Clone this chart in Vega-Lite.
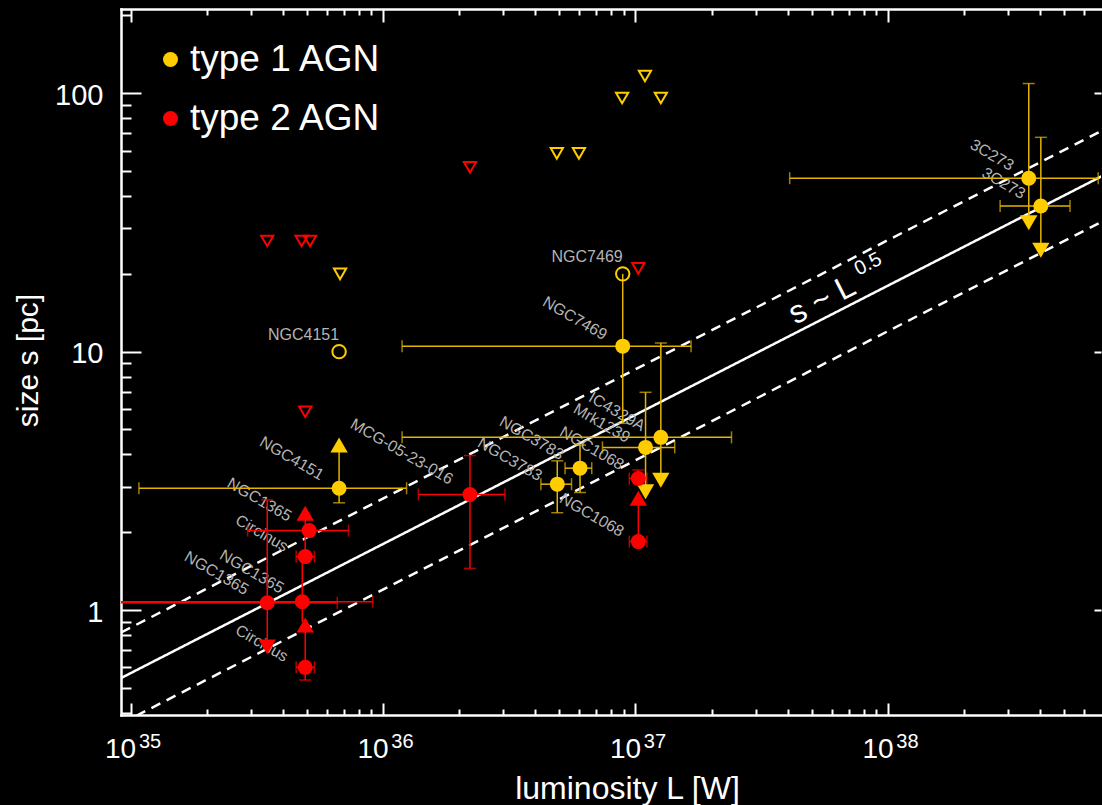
{
"$schema": "https://vega.github.io/schema/vega-lite/v6.json",
"width": 980,
"height": 706,
"autosize": {"type": "none"},
"padding": {"left": 121, "top": 9, "right": 1, "bottom": 90},
"background": "#000000",
"config": {
  "view": {"stroke": null},
  "axis": {"grid": false, "domainColor": "#FFFFFF", "domainWidth": 2.5, "domainCap": "square", "tickColor": "#FFFFFF", "tickWidth": 2, "labelColor": "#FFFFFF", "titleColor": "#FFFFFF", "labelFont": "Liberation Sans", "titleFont": "Liberation Sans", "titleFontWeight": "normal", "labelFlush": false, "labelOverlap": false, "labelBound": false},
  "text": {"font": "Liberation Sans"},
  "legend": {"labelFont": "Liberation Sans"}
},
"resolve": {"axis": {"x": "independent", "y": "independent"}, "scale": {"color": "independent", "shape": "independent", "strokeDash": "independent"}},
"datasets": {
  "fit": [
    {"line": "fit", "L": 8e34, "s": 0.5094}, {"line": "fit", "L": 8e38, "s": 50.94},
    {"line": "upper", "L": 8e34, "s": 0.7641}, {"line": "upper", "L": 8e38, "s": 76.41},
    {"line": "lower", "L": 8e34, "s": 0.3396}, {"line": "lower", "L": 8e38, "s": 33.96}
  ],
  "lblh": [
    {"name": "NGC4151", "L": 6.7e35, "s": 11.1},
    {"name": "NGC7469", "L": 8.9e36, "s": 22.2}
  ],
  "lblr": [
    {"name": "NGC4151", "L": 4.35e35, "s": 3.86},
    {"name": "MCG-05-23-016", "L": 1.186e36, "s": 4.10},
    {"name": "NGC1365", "L": 3.24e35, "s": 2.67},
    {"name": "Circinus", "L": 3.31e35, "s": 1.98},
    {"name": "NGC1365", "L": 3.02e35, "s": 1.406},
    {"name": "NGC1365", "L": 2.19e35, "s": 1.387},
    {"name": "Circinus", "L": 3.31e35, "s": 0.743},
    {"name": "NGC7469", "L": 5.75e36, "s": 13.45},
    {"name": "IC4329A", "L": 8.44e36, "s": 5.85},
    {"name": "Mrk1239", "L": 7.35e36, "s": 5.28},
    {"name": "NGC3783", "L": 3.88e36, "s": 4.62},
    {"name": "NGC3783", "L": 3.18e36, "s": 3.83},
    {"name": "NGC1068", "L": 6.71e36, "s": 4.22},
    {"name": "NGC1068", "L": 6.71e36, "s": 2.33},
    {"name": "3C273", "L": 2.58e38, "s": 57.6},
    {"name": "3C273", "L": 2.87e38, "s": 44.8}
  ],
  "slopemain": [{"txt": "s ~ L", "L": 5.48e37, "s": 15.84}],
  "slopeexp": [{"txt": "0.5", "L": 8.34e37, "s": 21.8}],
  "herr": [
    {"type": "type 1 AGN", "Llo": 1.08e35, "Lhi": 1.24e36, "s": 2.96},
    {"type": "type 1 AGN", "Llo": 1.19e36, "Lhi": 1.66e37, "s": 10.5},
    {"type": "type 1 AGN", "Llo": 1.19e36, "Lhi": 2.4e37, "s": 4.66},
    {"type": "type 1 AGN", "Llo": 7.4e36, "Lhi": 1.43e37, "s": 4.26},
    {"type": "type 1 AGN", "Llo": 5.26e36, "Lhi": 6.71e36, "s": 3.54},
    {"type": "type 1 AGN", "Llo": 4.22e36, "Lhi": 5.58e36, "s": 3.07},
    {"type": "type 1 AGN", "Llo": 4.08e37, "Lhi": 6.8e38, "s": 46.9},
    {"type": "type 1 AGN", "Llo": 2.78e38, "Lhi": 5.26e38, "s": 36.6},
    {"type": "type 2 AGN", "Llo": 1.38e36, "Lhi": 3.04e36, "s": 2.8},
    {"type": "type 2 AGN", "Llo": 9.45e36, "Lhi": 1.11e37, "s": 3.23},
    {"type": "type 2 AGN", "Llo": 9.45e36, "Lhi": 1.11e37, "s": 1.84},
    {"type": "type 2 AGN", "Llo": 5e34, "Lhi": 6.59e35, "s": 1.067},
    {"type": "type 2 AGN", "Llo": 5e34, "Lhi": 9.1e35, "s": 1.077},
    {"type": "type 2 AGN", "Llo": 2.91e35, "Lhi": 7.3e35, "s": 2.03},
    {"type": "type 2 AGN", "Llo": 4.53e35, "Lhi": 5.35e35, "s": 1.61},
    {"type": "type 2 AGN", "Llo": 4.53e35, "Lhi": 5.35e35, "s": 0.6}
  ],
  "verr": [
    {"type": "type 1 AGN", "L": 6.7e35, "slo": 2.6, "shi": 4.35},
    {"type": "type 1 AGN", "L": 8.9e36, "slo": 5.28, "shi": 20},
    {"type": "type 1 AGN", "L": 1.26e37, "slo": 3.18, "shi": 10.8},
    {"type": "type 1 AGN", "L": 1.096e37, "slo": 2.87, "shi": 6.96},
    {"type": "type 1 AGN", "L": 6.03e36, "slo": 2.85, "shi": 4.35},
    {"type": "type 1 AGN", "L": 4.9e36, "slo": 2.38, "shi": 3.78},
    {"type": "type 1 AGN", "L": 3.61e38, "slo": 31.5, "shi": 109},
    {"type": "type 1 AGN", "L": 4.03e38, "slo": 24.7, "shi": 67.5},
    {"type": "type 2 AGN", "L": 2.21e36, "slo": 1.45, "shi": 3.96},
    {"type": "type 2 AGN", "L": 1.026e37, "slo": 3.0, "shi": 3.48},
    {"type": "type 2 AGN", "L": 1.026e37, "slo": 1.84, "shi": 2.71},
    {"type": "type 2 AGN", "L": 3.48e35, "slo": 0.72, "shi": 2.67},
    {"type": "type 2 AGN", "L": 4.79e35, "slo": 0.9, "shi": 1.61},
    {"type": "type 2 AGN", "L": 4.92e35, "slo": 1.61, "shi": 2.37},
    {"type": "type 2 AGN", "L": 4.92e35, "slo": 0.536, "shi": 0.875}
  ],
  "vcap": [
    {"type": "type 1 AGN", "L": 6.7e35, "s": 2.6},
    {"type": "type 1 AGN", "L": 8.9e36, "s": 5.28},
    {"type": "type 1 AGN", "L": 1.26e37, "s": 10.8},
    {"type": "type 1 AGN", "L": 1.096e37, "s": 6.96},
    {"type": "type 1 AGN", "L": 6.03e36, "s": 2.85},
    {"type": "type 1 AGN", "L": 6.03e36, "s": 4.35},
    {"type": "type 1 AGN", "L": 4.9e36, "s": 2.38},
    {"type": "type 1 AGN", "L": 4.9e36, "s": 3.78},
    {"type": "type 1 AGN", "L": 3.61e38, "s": 109},
    {"type": "type 1 AGN", "L": 4.03e38, "s": 67.5},
    {"type": "type 2 AGN", "L": 2.21e36, "s": 1.45},
    {"type": "type 2 AGN", "L": 2.21e36, "s": 3.96},
    {"type": "type 2 AGN", "L": 1.026e37, "s": 3.48},
    {"type": "type 2 AGN", "L": 3.48e35, "s": 2.67},
    {"type": "type 2 AGN", "L": 4.92e35, "s": 0.536}
  ],
  "arrows": [
    {"type": "type 1 AGN", "L": 6.7e35, "s": 4.35, "dir": "up"},
    {"type": "type 1 AGN", "L": 1.26e37, "s": 3.18, "dir": "down"},
    {"type": "type 1 AGN", "L": 1.096e37, "s": 2.87, "dir": "down"},
    {"type": "type 1 AGN", "L": 3.61e38, "s": 31.5, "dir": "down"},
    {"type": "type 1 AGN", "L": 4.03e38, "s": 24.7, "dir": "down"},
    {"type": "type 2 AGN", "L": 1.026e37, "s": 2.71, "dir": "up"},
    {"type": "type 2 AGN", "L": 3.48e35, "s": 0.72, "dir": "down"},
    {"type": "type 2 AGN", "L": 4.92e35, "s": 2.37, "dir": "up"},
    {"type": "type 2 AGN", "L": 4.92e35, "s": 0.875, "dir": "up"}
  ],
  "ulim": [
    {"type": "type 1 AGN", "L": 6.76e35, "s": 20.0},
    {"type": "type 1 AGN", "L": 4.88e36, "s": 58.5},
    {"type": "type 1 AGN", "L": 5.97e36, "s": 58.5},
    {"type": "type 1 AGN", "L": 8.85e36, "s": 95.8},
    {"type": "type 1 AGN", "L": 1.09e37, "s": 116.6},
    {"type": "type 1 AGN", "L": 1.26e37, "s": 95.8},
    {"type": "type 2 AGN", "L": 3.48e35, "s": 26.8},
    {"type": "type 2 AGN", "L": 4.76e35, "s": 26.8},
    {"type": "type 2 AGN", "L": 5.14e35, "s": 26.8},
    {"type": "type 2 AGN", "L": 2.21e36, "s": 51.7},
    {"type": "type 2 AGN", "L": 4.92e35, "s": 5.85},
    {"type": "type 2 AGN", "L": 1.026e37, "s": 21.0}
  ],
  "ocirc": [
    {"type": "type 1 AGN", "L": 6.7e35, "s": 10.0},
    {"type": "type 1 AGN", "L": 8.9e36, "s": 20.0}
  ],
  "pts": [
    {"type": "type 1 AGN", "L": 6.7e35, "s": 2.96},
    {"type": "type 1 AGN", "L": 8.9e36, "s": 10.5},
    {"type": "type 1 AGN", "L": 1.26e37, "s": 4.66},
    {"type": "type 1 AGN", "L": 1.096e37, "s": 4.26},
    {"type": "type 1 AGN", "L": 6.03e36, "s": 3.54},
    {"type": "type 1 AGN", "L": 4.9e36, "s": 3.07},
    {"type": "type 1 AGN", "L": 3.61e38, "s": 46.9},
    {"type": "type 1 AGN", "L": 4.03e38, "s": 36.6},
    {"type": "type 2 AGN", "L": 2.21e36, "s": 2.8},
    {"type": "type 2 AGN", "L": 1.026e37, "s": 3.23},
    {"type": "type 2 AGN", "L": 1.026e37, "s": 1.84},
    {"type": "type 2 AGN", "L": 3.48e35, "s": 1.067},
    {"type": "type 2 AGN", "L": 4.79e35, "s": 1.077},
    {"type": "type 2 AGN", "L": 5.1e35, "s": 2.03},
    {"type": "type 2 AGN", "L": 4.92e35, "s": 1.61},
    {"type": "type 2 AGN", "L": 4.92e35, "s": 0.6}
  ]
},
"layer": [
  {
    "data": {"name": "fit"},
    "mark": {"type": "line", "color": "#FFFFFF", "strokeWidth": 2.5, "clip": true},
    "encoding": {
      "x": {"field": "L", "type": "quantitative", "scale": {"type": "log", "domain": [9.17e34, 6.976e38], "nice": false},
        "axis": {"orient": "bottom", "values": [1e35, 1e36, 1e37, 1e38], "tickSize": -12, "labels": false, "domain": true, "title": null}},
      "y": {"field": "s", "type": "quantitative", "scale": {"type": "log", "domain": [0.3925, 211.8], "nice": false},
        "axis": {"orient": "left", "values": [1, 10, 100], "tickSize": -20, "labels": false, "domain": true, "title": null}},
      "detail": {"field": "line", "type": "nominal"},
      "strokeDash": {"field": "line", "type": "nominal", "scale": {"domain": ["fit", "upper", "lower"], "range": [[1, 0], [10, 7], [10, 7]]}, "legend": null}
    }
  },
  {
    "data": {"name": "lblh"},
    "mark": {"type": "text", "align": "right", "baseline": "alphabetic", "fontSize": 16, "color": "#B4B4B4"},
    "encoding": {
      "x": {"field": "L", "type": "quantitative", "scale": {"type": "log", "domain": [9.17e34, 6.976e38], "nice": false},
        "axis": {"orient": "bottom", "values": [2e35, 3e35, 4e35, 5e35, 6e35, 7e35, 8e35, 9e35, 2e36, 3e36, 4e36, 5e36, 6e36, 7e36, 8e36, 9e36, 2e37, 3e37, 4e37, 5e37, 6e37, 7e37, 8e37, 9e37, 2e38, 3e38, 4e38, 5e38, 6e38], "tickSize": -6, "labels": false, "domain": false, "title": null}},
      "y": {"field": "s", "type": "quantitative", "scale": {"type": "log", "domain": [0.3925, 211.8], "nice": false},
        "axis": {"orient": "left", "values": [0.4, 0.5, 0.6, 0.7, 0.8, 0.9, 2, 3, 4, 5, 6, 7, 8, 9, 20, 30, 40, 50, 60, 70, 80, 90, 200], "tickSize": -10, "labels": false, "domain": false, "title": null}},
      "text": {"field": "name", "type": "nominal"}
    }
  },
  {
    "data": {"name": "lblr"},
    "mark": {"type": "text", "align": "center", "baseline": "middle", "angle": 30, "fontSize": 16, "color": "#B4B4B4"},
    "encoding": {
      "x": {"field": "L", "type": "quantitative", "scale": {"type": "log", "domain": [9.17e34, 6.976e38], "nice": false},
        "axis": {"orient": "top", "values": [1e35, 1e36, 1e37, 1e38], "tickSize": -13, "labels": false, "domain": true, "title": null}},
      "y": {"field": "s", "type": "quantitative", "scale": {"type": "log", "domain": [0.3925, 211.8], "nice": false},
        "axis": {"orient": "right", "values": [1, 10, 100], "tickSize": -7, "labels": false, "domain": false, "title": null}},
      "text": {"field": "name", "type": "nominal"}
    }
  },
  {
    "data": {"name": "slopemain"},
    "mark": {"type": "text", "align": "center", "baseline": "middle", "angle": -27, "fontSize": 32, "color": "#FFFFFF"},
    "encoding": {
      "x": {"field": "L", "type": "quantitative", "scale": {"type": "log", "domain": [9.17e34, 6.976e38], "nice": false},
        "axis": {"orient": "top", "values": [2e35, 3e35, 4e35, 5e35, 6e35, 7e35, 8e35, 9e35, 2e36, 3e36, 4e36, 5e36, 6e36, 7e36, 8e36, 9e36, 2e37, 3e37, 4e37, 5e37, 6e37, 7e37, 8e37, 9e37, 2e38, 3e38, 4e38, 5e38, 6e38], "tickSize": -6, "labels": false, "domain": false, "title": null}},
      "y": {"field": "s", "type": "quantitative", "scale": {"type": "log", "domain": [0.3925, 211.8], "nice": false},
        "axis": {"orient": "left", "values": [1, 10, 100], "ticks": false, "domain": false, "labels": true, "labelExpr": "format(datum.value, 'd')", "labelFontSize": 29, "labelPadding": 18, "labelOffset": 2,
          "title": "size s [pc]", "titleFontSize": 30, "titleX": -84, "titleY": 351, "titleAngle": -90, "titleAlign": "center", "titleBaseline": "alphabetic"}},
      "text": {"field": "txt", "type": "nominal"}
    }
  },
  {
    "data": {"name": "slopeexp"},
    "mark": {"type": "text", "align": "center", "baseline": "middle", "angle": -27, "fontSize": 20, "color": "#FFFFFF"},
    "encoding": {
      "x": {"field": "L", "type": "quantitative", "scale": {"type": "log", "domain": [9.17e34, 6.976e38], "nice": false},
        "axis": {"orient": "bottom", "values": [1e35, 1e36, 1e37, 1e38], "ticks": false, "domain": false, "labelExpr": "'10'", "labelFontSize": 28, "labelPadding": 20, "labelOffset": -10.5,
          "title": "luminosity L [W]", "titleFontSize": 32, "titleX": 506, "titleY": 83, "titleBaseline": "alphabetic", "titleAlign": "center"}},
      "y": {"field": "s", "type": "quantitative", "scale": {"type": "log", "domain": [0.3925, 211.8], "nice": false}, "axis": null},
      "text": {"field": "txt", "type": "nominal"}
    }
  },
  {
    "data": {"name": "herr"},
    "mark": {"type": "rule", "strokeWidth": 1.5, "clip": true},
    "encoding": {
      "x": {"field": "Llo", "type": "quantitative", "scale": {"type": "log", "domain": [9.17e34, 6.976e38], "nice": false},
        "axis": {"orient": "bottom", "values": [1e35, 1e36, 1e37, 1e38], "ticks": false, "domain": false, "labelExpr": "format(log(datum.value) / LN10, '.0f')", "labelFontSize": 20, "labelPadding": 16, "labelOffset": 19, "title": null}},
      "x2": {"field": "Lhi"},
      "y": {"field": "s", "type": "quantitative", "scale": {"type": "log", "domain": [0.3925, 211.8], "nice": false}, "axis": null},
      "color": {"field": "type", "type": "nominal", "scale": {"domain": ["type 1 AGN", "type 2 AGN"], "range": ["#E2B400", "#FF0000"]}, "legend": null}
    }
  },
  {
    "data": {"name": "herr"},
    "transform": [{"fold": ["Llo", "Lhi"], "as": ["end", "Lc"]}],
    "mark": {"type": "tick", "orient": "vertical", "size": 12, "thickness": 1.5, "clip": true},
    "encoding": {
      "x": {"field": "Lc", "type": "quantitative", "scale": {"type": "log", "domain": [9.17e34, 6.976e38], "nice": false}, "axis": null},
      "y": {"field": "s", "type": "quantitative", "scale": {"type": "log", "domain": [0.3925, 211.8], "nice": false}, "axis": null},
      "color": {"field": "type", "type": "nominal", "scale": {"domain": ["type 1 AGN", "type 2 AGN"], "range": ["#E2B400", "#FF0000"]}, "legend": null}
    }
  },
  {
    "data": {"name": "verr"},
    "mark": {"type": "rule", "strokeWidth": 1.5, "clip": true},
    "encoding": {
      "x": {"field": "L", "type": "quantitative", "scale": {"type": "log", "domain": [9.17e34, 6.976e38], "nice": false}, "axis": null},
      "y": {"field": "slo", "type": "quantitative", "scale": {"type": "log", "domain": [0.3925, 211.8], "nice": false}, "axis": null},
      "y2": {"field": "shi"},
      "color": {"field": "type", "type": "nominal", "scale": {"domain": ["type 1 AGN", "type 2 AGN"], "range": ["#E2B400", "#FF0000"]}, "legend": null}
    }
  },
  {
    "data": {"name": "vcap"},
    "mark": {"type": "tick", "orient": "horizontal", "size": 12, "thickness": 1.5, "clip": true},
    "encoding": {
      "x": {"field": "L", "type": "quantitative", "scale": {"type": "log", "domain": [9.17e34, 6.976e38], "nice": false}, "axis": null},
      "y": {"field": "s", "type": "quantitative", "scale": {"type": "log", "domain": [0.3925, 211.8], "nice": false}, "axis": null},
      "color": {"field": "type", "type": "nominal", "scale": {"domain": ["type 1 AGN", "type 2 AGN"], "range": ["#E2B400", "#FF0000"]}, "legend": null}
    }
  },
  {
    "data": {"name": "ulim"},
    "mark": {"type": "point", "shape": "triangle-down", "filled": false, "size": 150, "strokeWidth": 2, "opacity": 1},
    "encoding": {
      "x": {"field": "L", "type": "quantitative", "scale": {"type": "log", "domain": [9.17e34, 6.976e38], "nice": false}, "axis": null},
      "y": {"field": "s", "type": "quantitative", "scale": {"type": "log", "domain": [0.3925, 211.8], "nice": false}, "axis": null},
      "color": {"field": "type", "type": "nominal", "scale": {"domain": ["type 1 AGN", "type 2 AGN"], "range": ["#FFCC00", "#FF0000"]}, "legend": null}
    }
  },
  {
    "data": {"name": "ocirc"},
    "mark": {"type": "point", "shape": "circle", "filled": false, "size": 180, "strokeWidth": 2, "opacity": 1},
    "encoding": {
      "x": {"field": "L", "type": "quantitative", "scale": {"type": "log", "domain": [9.17e34, 6.976e38], "nice": false}, "axis": null},
      "y": {"field": "s", "type": "quantitative", "scale": {"type": "log", "domain": [0.3925, 211.8], "nice": false}, "axis": null},
      "color": {"field": "type", "type": "nominal", "scale": {"domain": ["type 1 AGN", "type 2 AGN"], "range": ["#FFCC00", "#FF0000"]}, "legend": null}
    }
  },
  {
    "data": {"name": "arrows"},
    "mark": {"type": "point", "filled": true, "size": 300, "opacity": 1},
    "encoding": {
      "x": {"field": "L", "type": "quantitative", "scale": {"type": "log", "domain": [9.17e34, 6.976e38], "nice": false}, "axis": null},
      "y": {"field": "s", "type": "quantitative", "scale": {"type": "log", "domain": [0.3925, 211.8], "nice": false}, "axis": null},
      "shape": {"field": "dir", "type": "nominal", "scale": {"domain": ["up", "down"], "range": ["triangle-up", "triangle-down"]}, "legend": null},
      "color": {"field": "type", "type": "nominal", "scale": {"domain": ["type 1 AGN", "type 2 AGN"], "range": ["#FFCC00", "#FF0000"]}, "legend": null}
    }
  },
  {
    "data": {"name": "pts"},
    "mark": {"type": "point", "shape": "circle", "filled": true, "size": 225, "opacity": 1},
    "encoding": {
      "x": {"field": "L", "type": "quantitative", "scale": {"type": "log", "domain": [9.17e34, 6.976e38], "nice": false}, "axis": null},
      "y": {"field": "s", "type": "quantitative", "scale": {"type": "log", "domain": [0.3925, 211.8], "nice": false}, "axis": null},
      "color": {"field": "type", "type": "nominal", "scale": {"domain": ["type 1 AGN", "type 2 AGN"], "range": ["#FFCC00", "#FF0000"]},
        "legend": {"orient": "none", "legendX": 31, "legendY": 32, "title": null, "padding": 0, "symbolType": "circle", "symbolSize": 225, "symbolStrokeWidth": 0, "labelFontSize": 37, "labelLimit": 0, "labelColor": "#FFFFFF", "labelFont": "Liberation Sans", "rowPadding": 21, "labelOffset": 1}}
    }
  }
]
}
